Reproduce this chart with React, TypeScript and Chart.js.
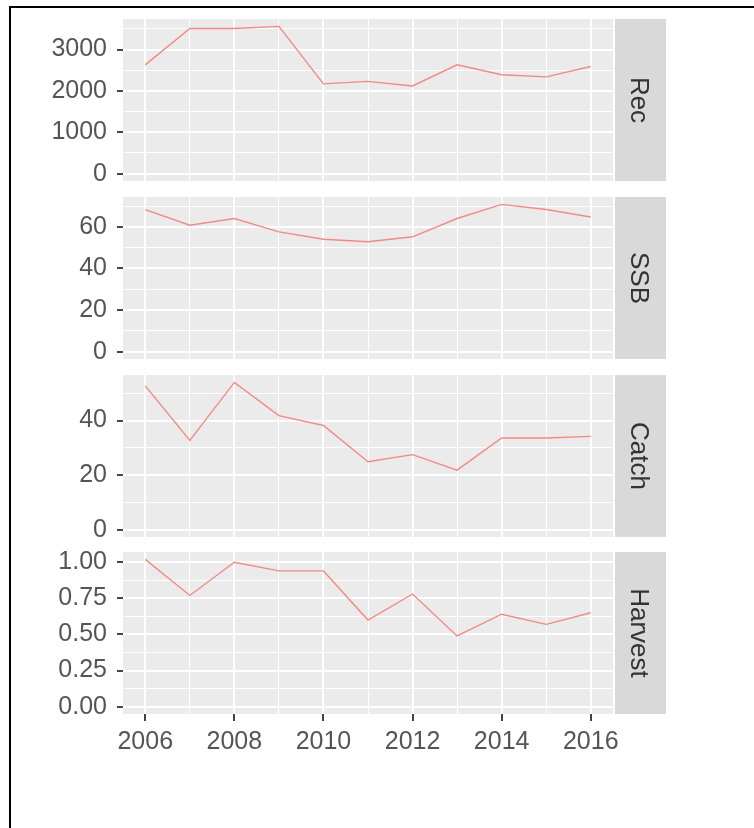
import React, { useEffect, useRef } from 'react';
import { Chart, registerables } from 'chart.js';

Chart.register(...registerables);

// ---- data ----
const years = [2006, 2007, 2008, 2009, 2010, 2011, 2012, 2013, 2014, 2015, 2016];
const recValues = [2630, 3510, 3510, 3560, 2170, 2230, 2120, 2630, 2390, 2340, 2590];
const ssbValues = [68.3, 60.8, 64.0, 57.6, 54.0, 52.8, 55.2, 64.0, 70.8, 68.3, 64.7];
const catchValues = [52.7, 32.7, 54.0, 41.8, 38.2, 24.9, 27.5, 21.8, 33.6, 33.6, 34.2];
const harvestValues = [1.02, 0.77, 1.0, 0.94, 0.94, 0.6, 0.78, 0.49, 0.64, 0.57, 0.65];

const xTickLabels = [2006, 2008, 2010, 2012, 2014, 2016];
const recTicks = [0, 1000, 2000, 3000];
const ssbTicks = [0, 20, 40, 60];
const catchTicks = [0, 20, 40];
const harvestTicks = [0, 0.25, 0.5, 0.75, 1.0];
const panelLabels = ['Rec', 'SSB', 'Catch', 'Harvest'];
const panelValues = [recValues, ssbValues, catchValues, harvestValues];
const panelTicks = [recTicks, ssbTicks, catchTicks, harvestTicks];
const panelDecimals = [0, 0, 0, 2];

// ---- layout / style ----
const W = 754;
const H = 828;
const PLOT_LEFT = 123;
const PLOT_RIGHT = 613;
const STRIP_LEFT = 615;
const STRIP_RIGHT = 666;
const PANEL_TOPS = [19, 197, 375, 552];
const PANEL_H = 162;
const PAD = 16;
const X_AXIS_H = 50;
const FONT = '"Liberation Sans", Arial, sans-serif';
const LINE_COLOR = '#F28A83';
const PANEL_BG = '#EBEBEB';
const STRIP_BG = '#D9D9D9';

const decorPlugin = {
  id: 'panelDecor',
  beforeDraw(chart: any) {
    const { ctx, chartArea } = chart;
    ctx.save();
    ctx.fillStyle = PANEL_BG;
    ctx.fillRect(chartArea.left, chartArea.top, chartArea.right - chartArea.left, chartArea.bottom - chartArea.top);
    ctx.restore();
  },
  afterDraw(chart: any, _args: any, opts: any) {
    const { ctx, chartArea } = chart;
    ctx.save();
    ctx.fillStyle = STRIP_BG;
    ctx.fillRect(STRIP_LEFT, chartArea.top, STRIP_RIGHT - STRIP_LEFT, chartArea.bottom - chartArea.top);
    ctx.translate((STRIP_LEFT + STRIP_RIGHT) / 2 - 2, (chartArea.top + chartArea.bottom) / 2);
    ctx.rotate(Math.PI / 2);
    ctx.fillStyle = '#333333';
    ctx.font = `26px ${FONT}`;
    ctx.textAlign = 'center';
    ctx.textBaseline = 'middle';
    ctx.fillText(opts.label, 0, 0);
    ctx.restore();
  },
};

const zeroPadding = (s: any) => {
  s.paddingTop = 0;
  s.paddingBottom = 0;
  s.paddingLeft = 0;
  s.paddingRight = 0;
};

function makeChart(canvas: HTMLCanvasElement, i: number) {
  const isLast = i === panelLabels.length - 1;
  const values = panelValues[i];
  const majors = panelTicks[i];
  const step = majors[1] - majors[0];
  const lo = Math.min(0, ...values);
  const hi = Math.max(...values);
  const ext = (hi - lo) * 0.05;
  const yMin = lo - ext;
  const yMax = hi + ext;
  const yTickValues: number[] = [];
  for (let k = 0; k < majors.length; k++) {
    yTickValues.push(majors[k]);
    const minor = majors[k] + step / 2;
    if (minor < yMax) yTickValues.push(minor);
  }
  const isMajorY = (v: number) => majors.some((m) => Math.abs(m - v) < 1e-9);
  const isMajorX = (v: number) => xTickLabels.includes(v);
  const top = PANEL_TOPS[i] - PAD;
  const canvasH = isLast ? H - top : PANEL_H + 2 * PAD;
  const xAxisH = isLast ? X_AXIS_H : 0;
  const padBottom = canvasH - PAD - PANEL_H - xAxisH;

  return new Chart(canvas, {
    type: 'line',
    data: {
      datasets: [
        {
          data: years.map((y, k) => ({ x: y, y: values[k] })),
          borderColor: LINE_COLOR,
          borderWidth: 1.4,
          pointRadius: 0,
          tension: 0,
          fill: false,
        },
      ],
    },
    options: {
      animation: false,
      responsive: false,
      devicePixelRatio: 1,
      events: [],
      layout: { padding: { left: 0, right: W - PLOT_RIGHT, top: PAD, bottom: padBottom } },
      plugins: {
        legend: { display: false },
        tooltip: { enabled: false },
        panelDecor: { label: panelLabels[i] },
      } as any,
      scales: {
        x: {
          type: 'linear',
          min: 2005.5,
          max: 2016.5,
          afterBuildTicks: (s: any) => {
            s.ticks = years.map((v) => ({ value: v }));
          },
          afterFit: (s: any) => {
            s.height = xAxisH;
            zeroPadding(s);
          },
          border: { display: false },
          grid: {
            color: '#FFFFFF',
            lineWidth: (ctx: any) => (isMajorX(ctx.tick?.value) ? 2 : 1),
            drawTicks: isLast,
            tickLength: 7,
            tickWidth: 2,
            tickColor: (ctx: any) => (isMajorX(ctx.tick?.value) ? '#444444' : 'rgba(0,0,0,0)'),
          },
          ticks: {
            display: isLast,
            autoSkip: false,
            maxRotation: 0,
            minRotation: 0,
            padding: 6,
            color: '#555555',
            font: { family: FONT, size: 25 },
            callback: (v: any) => (isMajorX(Number(v)) ? String(v) : ''),
          },
        },
        y: {
          type: 'linear',
          min: yMin,
          max: yMax,
          afterBuildTicks: (s: any) => {
            s.ticks = yTickValues.map((v) => ({ value: v }));
          },
          afterFit: (s: any) => {
            s.width = PLOT_LEFT;
            zeroPadding(s);
          },
          border: { display: false },
          grid: {
            color: '#FFFFFF',
            lineWidth: (ctx: any) => (isMajorY(ctx.tick?.value) ? 2 : 1),
            drawTicks: true,
            tickLength: 6,
            tickWidth: 2,
            tickColor: (ctx: any) => (isMajorY(ctx.tick?.value) ? '#444444' : 'rgba(0,0,0,0)'),
          },
          ticks: {
            autoSkip: false,
            padding: 10,
            color: '#555555',
            font: { family: FONT, size: 25 },
            callback: (v: any) => (isMajorY(Number(v)) ? Number(v).toFixed(panelDecimals[i]) : ''),
          },
        },
      },
    } as any,
    plugins: [decorPlugin as any],
  });
}

export default function App() {
  const refs = useRef<(HTMLCanvasElement | null)[]>([]);

  useEffect(() => {
    const charts = panelLabels.map((_, i) => makeChart(refs.current[i] as HTMLCanvasElement, i));
    return () => charts.forEach((c) => c.destroy());
  }, []);

  return (
    <div style={{ position: 'absolute', left: 0, top: 0, width: W, height: H, background: '#FFFFFF', overflow: 'hidden' }}>
      <div style={{ position: 'absolute', left: 9, top: 6, width: 2, height: H - 6, background: '#000' }} />
      <div style={{ position: 'absolute', left: 9, top: 6, width: W - 9, height: 2, background: '#000' }} />
      {panelLabels.map((label, i) => {
        const isLast = i === panelLabels.length - 1;
        const top = PANEL_TOPS[i] - PAD;
        const h = isLast ? H - top : PANEL_H + 2 * PAD;
        return (
          <canvas
            key={label}
            ref={(el) => {
              refs.current[i] = el;
            }}
            width={W}
            height={h}
            style={{ position: 'absolute', left: 0, top, width: W, height: h }}
          />
        );
      })}
    </div>
  );
}
